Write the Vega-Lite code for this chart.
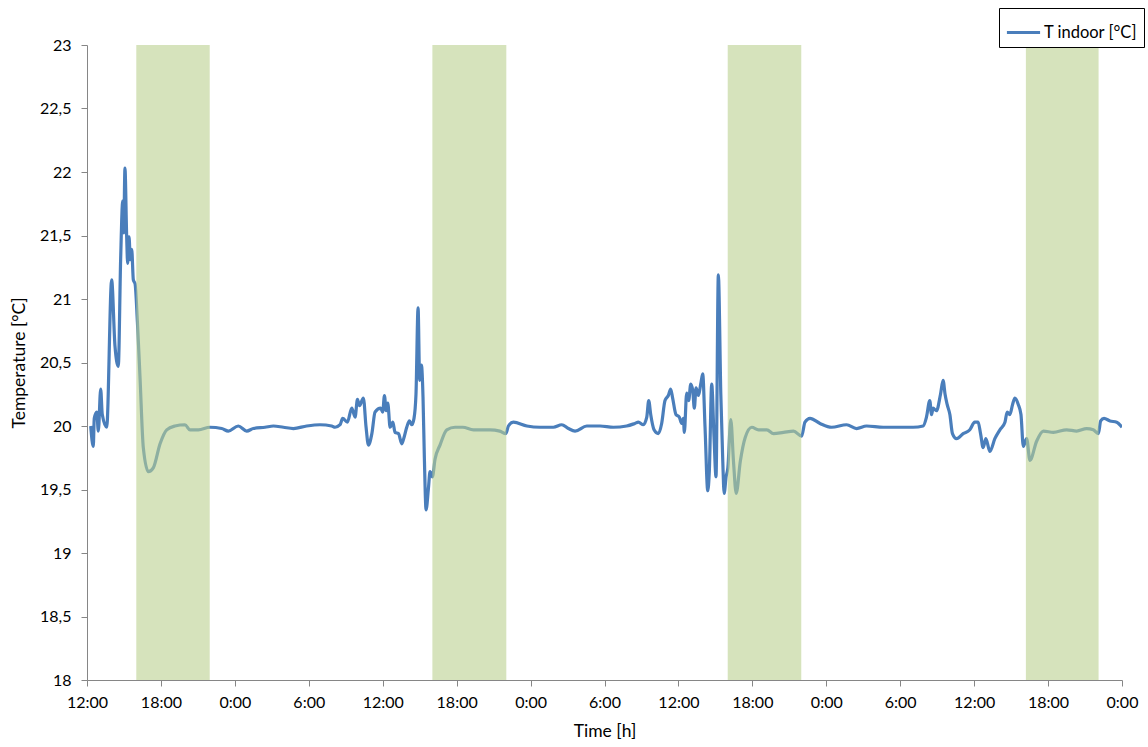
{
  "$schema": "https://vega.github.io/schema/vega-lite/v6.json",
  "width": 1035,
  "height": 635,
  "autosize": "none",
  "padding": {"left": 87, "top": 45, "right": 26, "bottom": 67},
  "background": "#ffffff",
  "datasets": {
    "bands": [
      {"start": 4.0, "end": 9.96},
      {"start": 28.03, "end": 34.03},
      {"start": 52.0, "end": 57.97},
      {"start": 76.2, "end": 82.1}
    ],
    "temps": [
      {"h": 0.3, "t": 20.0, "series": "T indoor [°C]"},
      {"h": 0.51, "t": 19.84, "series": "T indoor [°C]"},
      {"h": 0.59, "t": 20.06, "series": "T indoor [°C]"},
      {"h": 0.79, "t": 20.11, "series": "T indoor [°C]"},
      {"h": 0.92, "t": 19.96, "series": "T indoor [°C]"},
      {"h": 1.11, "t": 20.29, "series": "T indoor [°C]"},
      {"h": 1.24, "t": 20.09, "series": "T indoor [°C]"},
      {"h": 1.6, "t": 19.99, "series": "T indoor [°C]"},
      {"h": 2.0, "t": 21.15, "series": "T indoor [°C]"},
      {"h": 2.27, "t": 20.63, "series": "T indoor [°C]"},
      {"h": 2.54, "t": 20.47, "series": "T indoor [°C]"},
      {"h": 2.73, "t": 21.31, "series": "T indoor [°C]"},
      {"h": 2.9, "t": 21.77, "series": "T indoor [°C]"},
      {"h": 2.98, "t": 21.52, "series": "T indoor [°C]"},
      {"h": 3.08, "t": 22.03, "series": "T indoor [°C]"},
      {"h": 3.22, "t": 21.49, "series": "T indoor [°C]"},
      {"h": 3.3, "t": 21.28, "series": "T indoor [°C]"},
      {"h": 3.41, "t": 21.49, "series": "T indoor [°C]"},
      {"h": 3.52, "t": 21.31, "series": "T indoor [°C]"},
      {"h": 3.63, "t": 21.39, "series": "T indoor [°C]"},
      {"h": 3.76, "t": 21.15, "series": "T indoor [°C]"},
      {"h": 3.9, "t": 21.12, "series": "T indoor [°C]"},
      {"h": 4.09, "t": 20.82, "series": "T indoor [°C]"},
      {"h": 4.3, "t": 20.39, "series": "T indoor [°C]"},
      {"h": 4.57, "t": 19.83, "series": "T indoor [°C]"},
      {"h": 4.98, "t": 19.64, "series": "T indoor [°C]"},
      {"h": 5.38, "t": 19.67, "series": "T indoor [°C]"},
      {"h": 5.93, "t": 19.86, "series": "T indoor [°C]"},
      {"h": 6.47, "t": 19.97, "series": "T indoor [°C]"},
      {"h": 7.14, "t": 20.0, "series": "T indoor [°C]"},
      {"h": 7.95, "t": 20.01, "series": "T indoor [°C]"},
      {"h": 8.36, "t": 19.97, "series": "T indoor [°C]"},
      {"h": 9.04, "t": 19.97, "series": "T indoor [°C]"},
      {"h": 9.98, "t": 19.99, "series": "T indoor [°C]"},
      {"h": 10.93, "t": 19.98, "series": "T indoor [°C]"},
      {"h": 11.47, "t": 19.96, "series": "T indoor [°C]"},
      {"h": 12.28, "t": 20.0, "series": "T indoor [°C]"},
      {"h": 12.96, "t": 19.96, "series": "T indoor [°C]"},
      {"h": 13.5, "t": 19.98, "series": "T indoor [°C]"},
      {"h": 14.45, "t": 19.99, "series": "T indoor [°C]"},
      {"h": 15.13, "t": 20.0, "series": "T indoor [°C]"},
      {"h": 15.94, "t": 19.99, "series": "T indoor [°C]"},
      {"h": 16.75, "t": 19.98, "series": "T indoor [°C]"},
      {"h": 17.83, "t": 20.0, "series": "T indoor [°C]"},
      {"h": 18.91, "t": 20.01, "series": "T indoor [°C]"},
      {"h": 19.86, "t": 20.0, "series": "T indoor [°C]"},
      {"h": 20.13, "t": 19.99, "series": "T indoor [°C]"},
      {"h": 20.54, "t": 20.01, "series": "T indoor [°C]"},
      {"h": 20.75, "t": 20.06, "series": "T indoor [°C]"},
      {"h": 21.13, "t": 20.03, "series": "T indoor [°C]"},
      {"h": 21.49, "t": 20.14, "series": "T indoor [°C]"},
      {"h": 21.76, "t": 20.07, "series": "T indoor [°C]"},
      {"h": 21.95, "t": 20.21, "series": "T indoor [°C]"},
      {"h": 22.11, "t": 20.16, "series": "T indoor [°C]"},
      {"h": 22.43, "t": 20.22, "series": "T indoor [°C]"},
      {"h": 22.65, "t": 19.99, "series": "T indoor [°C]"},
      {"h": 22.84, "t": 19.85, "series": "T indoor [°C]"},
      {"h": 23.12, "t": 19.94, "series": "T indoor [°C]"},
      {"h": 23.38, "t": 20.11, "series": "T indoor [°C]"},
      {"h": 23.84, "t": 20.14, "series": "T indoor [°C]"},
      {"h": 24.0, "t": 20.11, "series": "T indoor [°C]"},
      {"h": 24.14, "t": 20.24, "series": "T indoor [°C]"},
      {"h": 24.28, "t": 20.12, "series": "T indoor [°C]"},
      {"h": 24.41, "t": 20.18, "series": "T indoor [°C]"},
      {"h": 24.6, "t": 19.99, "series": "T indoor [°C]"},
      {"h": 24.82, "t": 20.03, "series": "T indoor [°C]"},
      {"h": 25.0, "t": 19.95, "series": "T indoor [°C]"},
      {"h": 25.28, "t": 19.94, "series": "T indoor [°C]"},
      {"h": 25.55, "t": 19.86, "series": "T indoor [°C]"},
      {"h": 25.73, "t": 19.91, "series": "T indoor [°C]"},
      {"h": 25.95, "t": 19.99, "series": "T indoor [°C]"},
      {"h": 26.17, "t": 20.04, "series": "T indoor [°C]"},
      {"h": 26.36, "t": 20.01, "series": "T indoor [°C]"},
      {"h": 26.54, "t": 20.06, "series": "T indoor [°C]"},
      {"h": 26.7, "t": 20.25, "series": "T indoor [°C]"},
      {"h": 26.87, "t": 20.93, "series": "T indoor [°C]"},
      {"h": 27.0, "t": 20.36, "series": "T indoor [°C]"},
      {"h": 27.14, "t": 20.48, "series": "T indoor [°C]"},
      {"h": 27.27, "t": 20.23, "series": "T indoor [°C]"},
      {"h": 27.38, "t": 19.75, "series": "T indoor [°C]"},
      {"h": 27.52, "t": 19.34, "series": "T indoor [°C]"},
      {"h": 27.71, "t": 19.51, "series": "T indoor [°C]"},
      {"h": 27.84, "t": 19.64, "series": "T indoor [°C]"},
      {"h": 28.03, "t": 19.6, "series": "T indoor [°C]"},
      {"h": 28.25, "t": 19.74, "series": "T indoor [°C]"},
      {"h": 28.65, "t": 19.85, "series": "T indoor [°C]"},
      {"h": 29.2, "t": 19.97, "series": "T indoor [°C]"},
      {"h": 29.87, "t": 19.99, "series": "T indoor [°C]"},
      {"h": 30.5, "t": 19.99, "series": "T indoor [°C]"},
      {"h": 31.36, "t": 19.97, "series": "T indoor [°C]"},
      {"h": 32.71, "t": 19.97, "series": "T indoor [°C]"},
      {"h": 33.5, "t": 19.96, "series": "T indoor [°C]"},
      {"h": 34.0, "t": 19.94, "series": "T indoor [°C]"},
      {"h": 34.2, "t": 20.0, "series": "T indoor [°C]"},
      {"h": 34.6, "t": 20.03, "series": "T indoor [°C]"},
      {"h": 35.7, "t": 20.0, "series": "T indoor [°C]"},
      {"h": 36.77, "t": 19.99, "series": "T indoor [°C]"},
      {"h": 37.85, "t": 19.99, "series": "T indoor [°C]"},
      {"h": 38.53, "t": 20.01, "series": "T indoor [°C]"},
      {"h": 39.07, "t": 19.98, "series": "T indoor [°C]"},
      {"h": 39.61, "t": 19.96, "series": "T indoor [°C]"},
      {"h": 40.56, "t": 20.0, "series": "T indoor [°C]"},
      {"h": 41.64, "t": 20.0, "series": "T indoor [°C]"},
      {"h": 42.72, "t": 19.99, "series": "T indoor [°C]"},
      {"h": 43.8, "t": 20.0, "series": "T indoor [°C]"},
      {"h": 44.47, "t": 20.02, "series": "T indoor [°C]"},
      {"h": 44.75, "t": 20.03, "series": "T indoor [°C]"},
      {"h": 45.15, "t": 20.01, "series": "T indoor [°C]"},
      {"h": 45.43, "t": 20.07, "series": "T indoor [°C]"},
      {"h": 45.59, "t": 20.2, "series": "T indoor [°C]"},
      {"h": 45.75, "t": 20.09, "series": "T indoor [°C]"},
      {"h": 46.02, "t": 19.97, "series": "T indoor [°C]"},
      {"h": 46.37, "t": 19.94, "series": "T indoor [°C]"},
      {"h": 46.64, "t": 20.02, "series": "T indoor [°C]"},
      {"h": 46.91, "t": 20.2, "series": "T indoor [°C]"},
      {"h": 47.18, "t": 20.24, "series": "T indoor [°C]"},
      {"h": 47.37, "t": 20.29, "series": "T indoor [°C]"},
      {"h": 47.53, "t": 20.22, "series": "T indoor [°C]"},
      {"h": 47.8, "t": 20.09, "series": "T indoor [°C]"},
      {"h": 48.07, "t": 20.07, "series": "T indoor [°C]"},
      {"h": 48.26, "t": 20.02, "series": "T indoor [°C]"},
      {"h": 48.4, "t": 20.06, "series": "T indoor [°C]"},
      {"h": 48.48, "t": 19.95, "series": "T indoor [°C]"},
      {"h": 48.67, "t": 20.26, "series": "T indoor [°C]"},
      {"h": 48.83, "t": 20.2, "series": "T indoor [°C]"},
      {"h": 49.0, "t": 20.33, "series": "T indoor [°C]"},
      {"h": 49.16, "t": 20.28, "series": "T indoor [°C]"},
      {"h": 49.29, "t": 20.14, "series": "T indoor [°C]"},
      {"h": 49.43, "t": 20.3, "series": "T indoor [°C]"},
      {"h": 49.62, "t": 20.24, "series": "T indoor [°C]"},
      {"h": 49.81, "t": 20.33, "series": "T indoor [°C]"},
      {"h": 49.97, "t": 20.41, "series": "T indoor [°C]"},
      {"h": 50.16, "t": 19.99, "series": "T indoor [°C]"},
      {"h": 50.38, "t": 19.49, "series": "T indoor [°C]"},
      {"h": 50.51, "t": 19.65, "series": "T indoor [°C]"},
      {"h": 50.7, "t": 20.33, "series": "T indoor [°C]"},
      {"h": 50.89, "t": 19.91, "series": "T indoor [°C]"},
      {"h": 51.05, "t": 19.6, "series": "T indoor [°C]"},
      {"h": 51.24, "t": 21.19, "series": "T indoor [°C]"},
      {"h": 51.44, "t": 20.25, "series": "T indoor [°C]"},
      {"h": 51.6, "t": 19.72, "series": "T indoor [°C]"},
      {"h": 51.71, "t": 19.47, "series": "T indoor [°C]"},
      {"h": 51.87, "t": 19.6, "series": "T indoor [°C]"},
      {"h": 52.01, "t": 19.67, "series": "T indoor [°C]"},
      {"h": 52.25, "t": 20.05, "series": "T indoor [°C]"},
      {"h": 52.47, "t": 19.72, "series": "T indoor [°C]"},
      {"h": 52.69, "t": 19.47, "series": "T indoor [°C]"},
      {"h": 53.02, "t": 19.72, "series": "T indoor [°C]"},
      {"h": 53.42, "t": 19.91, "series": "T indoor [°C]"},
      {"h": 53.96, "t": 19.99, "series": "T indoor [°C]"},
      {"h": 54.5, "t": 19.97, "series": "T indoor [°C]"},
      {"h": 55.18, "t": 19.97, "series": "T indoor [°C]"},
      {"h": 55.72, "t": 19.94, "series": "T indoor [°C]"},
      {"h": 56.53, "t": 19.95, "series": "T indoor [°C]"},
      {"h": 57.34, "t": 19.96, "series": "T indoor [°C]"},
      {"h": 58.0, "t": 19.92, "series": "T indoor [°C]"},
      {"h": 58.27, "t": 20.03, "series": "T indoor [°C]"},
      {"h": 58.68, "t": 20.06, "series": "T indoor [°C]"},
      {"h": 59.49, "t": 20.02, "series": "T indoor [°C]"},
      {"h": 60.43, "t": 19.99, "series": "T indoor [°C]"},
      {"h": 61.65, "t": 20.01, "series": "T indoor [°C]"},
      {"h": 62.46, "t": 19.98, "series": "T indoor [°C]"},
      {"h": 63.27, "t": 20.0, "series": "T indoor [°C]"},
      {"h": 64.62, "t": 19.99, "series": "T indoor [°C]"},
      {"h": 65.97, "t": 19.99, "series": "T indoor [°C]"},
      {"h": 67.05, "t": 19.99, "series": "T indoor [°C]"},
      {"h": 67.86, "t": 20.0, "series": "T indoor [°C]"},
      {"h": 68.13, "t": 20.07, "series": "T indoor [°C]"},
      {"h": 68.4, "t": 20.2, "series": "T indoor [°C]"},
      {"h": 68.54, "t": 20.09, "series": "T indoor [°C]"},
      {"h": 68.67, "t": 20.14, "series": "T indoor [°C]"},
      {"h": 68.94, "t": 20.12, "series": "T indoor [°C]"},
      {"h": 69.27, "t": 20.25, "series": "T indoor [°C]"},
      {"h": 69.48, "t": 20.36, "series": "T indoor [°C]"},
      {"h": 69.64, "t": 20.25, "series": "T indoor [°C]"},
      {"h": 69.81, "t": 20.17, "series": "T indoor [°C]"},
      {"h": 70.03, "t": 20.09, "series": "T indoor [°C]"},
      {"h": 70.24, "t": 19.94, "series": "T indoor [°C]"},
      {"h": 70.57, "t": 19.9, "series": "T indoor [°C]"},
      {"h": 71.11, "t": 19.94, "series": "T indoor [°C]"},
      {"h": 71.65, "t": 19.97, "series": "T indoor [°C]"},
      {"h": 72.05, "t": 20.03, "series": "T indoor [°C]"},
      {"h": 72.32, "t": 20.03, "series": "T indoor [°C]"},
      {"h": 72.52, "t": 19.94, "series": "T indoor [°C]"},
      {"h": 72.73, "t": 19.83, "series": "T indoor [°C]"},
      {"h": 72.95, "t": 19.9, "series": "T indoor [°C]"},
      {"h": 73.28, "t": 19.8, "series": "T indoor [°C]"},
      {"h": 73.68, "t": 19.9, "series": "T indoor [°C]"},
      {"h": 74.09, "t": 19.97, "series": "T indoor [°C]"},
      {"h": 74.5, "t": 20.03, "series": "T indoor [°C]"},
      {"h": 74.68, "t": 20.11, "series": "T indoor [°C]"},
      {"h": 74.9, "t": 20.09, "series": "T indoor [°C]"},
      {"h": 75.12, "t": 20.17, "series": "T indoor [°C]"},
      {"h": 75.31, "t": 20.22, "series": "T indoor [°C]"},
      {"h": 75.58, "t": 20.17, "series": "T indoor [°C]"},
      {"h": 75.8, "t": 20.09, "series": "T indoor [°C]"},
      {"h": 75.99, "t": 19.84, "series": "T indoor [°C]"},
      {"h": 76.26, "t": 19.9, "series": "T indoor [°C]"},
      {"h": 76.53, "t": 19.73, "series": "T indoor [°C]"},
      {"h": 77.07, "t": 19.88, "series": "T indoor [°C]"},
      {"h": 77.62, "t": 19.96, "series": "T indoor [°C]"},
      {"h": 78.43, "t": 19.95, "series": "T indoor [°C]"},
      {"h": 79.51, "t": 19.97, "series": "T indoor [°C]"},
      {"h": 80.32, "t": 19.96, "series": "T indoor [°C]"},
      {"h": 81.13, "t": 19.98, "series": "T indoor [°C]"},
      {"h": 81.67, "t": 19.97, "series": "T indoor [°C]"},
      {"h": 82.08, "t": 19.94, "series": "T indoor [°C]"},
      {"h": 82.27, "t": 20.04, "series": "T indoor [°C]"},
      {"h": 82.54, "t": 20.06, "series": "T indoor [°C]"},
      {"h": 83.03, "t": 20.04, "series": "T indoor [°C]"},
      {"h": 83.57, "t": 20.03, "series": "T indoor [°C]"},
      {"h": 84.0, "t": 19.99, "series": "T indoor [°C]"}
    ]
  },
  "layer": [
    {
      "data": {"name": "temps"},
      "mark": {"type": "line", "strokeWidth": 3.2, "interpolate": "monotone", "clip": true},
      "encoding": {
        "x": {
          "field": "h", "type": "quantitative",
          "scale": {"domain": [0, 84], "nice": false, "zero": false},
          "axis": {
            "title": "Time [h]",
            "values": [0, 6, 12, 18, 24, 30, 36, 42, 48, 54, 60, 66, 72, 78, 84],
            "labelExpr": "toString((datum.value + 12) % 24) + ':00'",
            "tickSize": 6,
            "labelPadding": 8,
            "titlePadding": 12,
            "labelFlush": false,
            "labelOverlap": false
          }
        },
        "y": {
          "field": "t", "type": "quantitative",
          "scale": {"domain": [18, 23], "nice": false, "zero": false},
          "axis": {
            "title": "Temperature [°C]",
            "values": [18, 18.5, 19, 19.5, 20, 20.5, 21, 21.5, 22, 22.5, 23],
            "labelExpr": "replace(toString(datum.value), '.', ',')",
            "tickSize": 6,
            "labelPadding": 10,
            "titlePadding": 11,
            "labelFlush": false,
            "labelOverlap": false
          }
        },
        "color": {
          "field": "series", "type": "nominal",
          "scale": {"range": ["#4a7ebb"]},
          "legend": {
            "title": null,
            "orient": "none",
            "legendX": 912,
            "legendY": -37,
            "strokeColor": "#000000",
            "fillColor": "#ffffff",
            "padding": 6,
            "symbolType": "stroke",
            "symbolSize": 1100,
            "symbolStrokeWidth": 3,
            "labelFont": "Lato",
            "labelFontSize": 16.5,
            "labelColor": "#000000",
            "labelOffset": 2
          }
        }
      }
    },
    {
      "data": {"name": "bands"},
      "mark": {"type": "rect", "fill": "#bbd18f", "opacity": 0.6},
      "encoding": {
        "x": {"field": "start", "type": "quantitative"},
        "x2": {"field": "end"},
        "y": {"datum": 18},
        "y2": {"datum": 23}
      }
    }
  ],
  "config": {
    "view": {"stroke": null},
    "axis": {
      "grid": false,
      "domainColor": "#868686",
      "tickColor": "#868686",
      "labelFont": "Lato",
      "labelFontSize": 16,
      "labelColor": "#000000",
      "titleFont": "Lato",
      "titleFontSize": 17.5,
      "titleFontWeight": "normal",
      "titleColor": "#000000"
    }
  }
}
